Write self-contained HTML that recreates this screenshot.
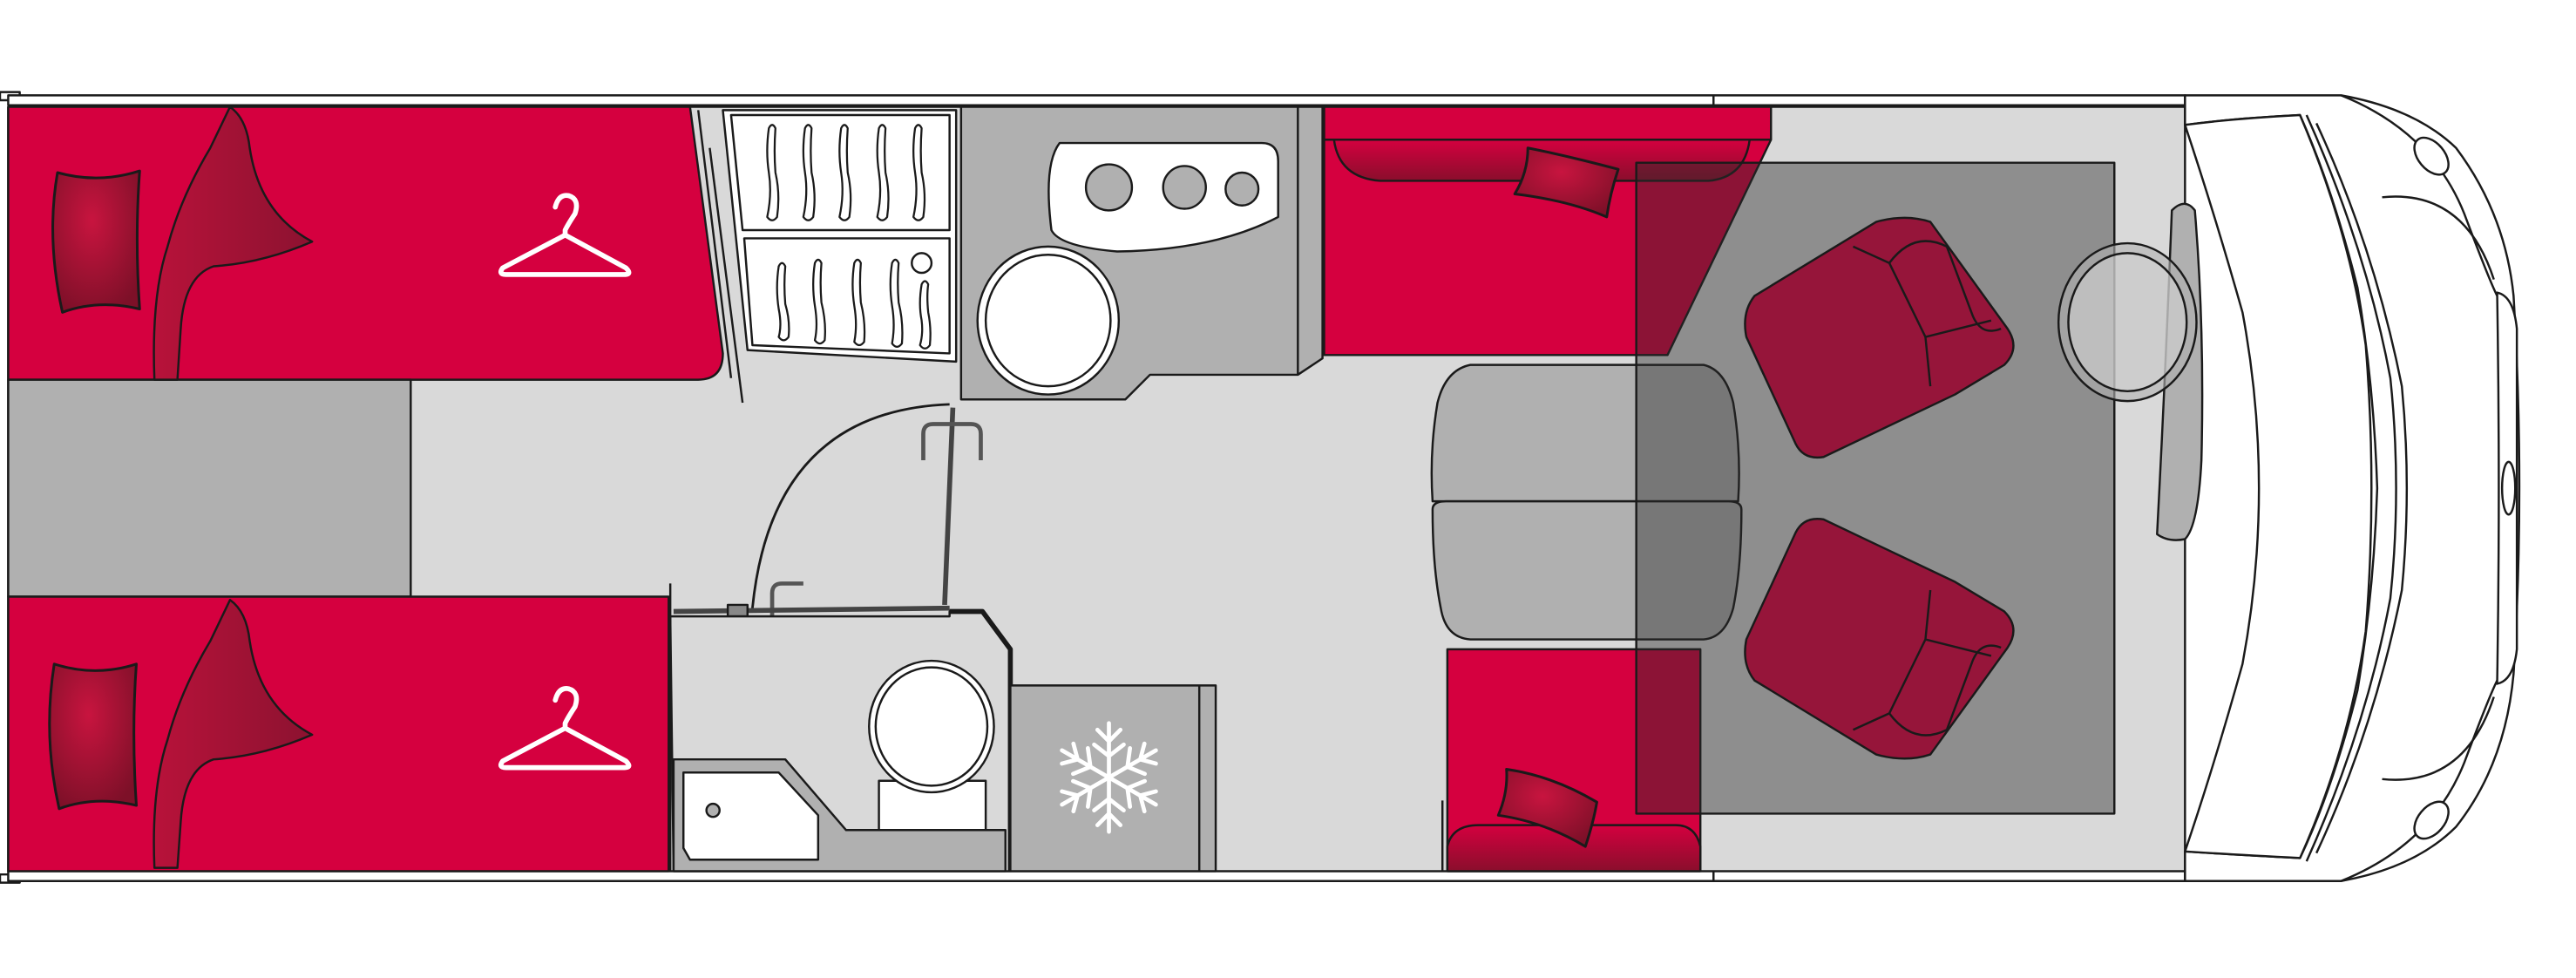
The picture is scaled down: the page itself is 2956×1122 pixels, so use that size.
<!DOCTYPE html>
<html><head><meta charset="utf-8"><style>
html,body{margin:0;padding:0;background:#fff;}
svg{display:block;}
</style></head><body>
<svg width="2956" height="1122" viewBox="0 0 1568 595" preserveAspectRatio="none" xmlns="http://www.w3.org/2000/svg">
<defs>
<radialGradient id="pil" cx="0.45" cy="0.35" r="0.7"><stop offset="0" stop-color="#c8143f"/><stop offset="1" stop-color="#7d1028"/></radialGradient>
<linearGradient id="bl" x1="0" y1="0" x2="1" y2="0"><stop offset="0" stop-color="#b8123a"/><stop offset="1" stop-color="#8c1230"/></linearGradient>
<linearGradient id="cush" x1="0" y1="0" x2="0" y2="1"><stop offset="0" stop-color="#d4003f"/><stop offset="1" stop-color="#8a0e2c"/></linearGradient>
</defs>
<g stroke="#1a1a1a" stroke-width="1.3" stroke-linejoin="round">
<rect x="0" y="56" width="12" height="5" fill="#fff"/>
<rect x="0" y="532" width="12" height="5" fill="#fff"/>
<rect x="5" y="58" width="1325" height="6" fill="#fff"/>
<rect x="5" y="530" width="1325" height="6" fill="#fff"/>
<line x1="1043" y1="58" x2="1043" y2="64"/><line x1="1043" y1="530" x2="1043" y2="536"/>
<rect x="5" y="65" width="1325" height="465" fill="#d9d9d9"/>
<!-- cab -->
<path d="M1330 58 H1425 Q1470 66 1495 90 Q1525 130 1530 180 Q1537 297 1530 410 Q1525 465 1495 503 Q1470 528 1425 536 H1330 L1330 518 Q1360 520 1400 522 Q1420 480 1435 420 Q1445 360 1447 297 Q1445 234 1435 175 Q1420 115 1400 70 Q1360 72 1330 76 Z" fill="#fff"/>
<path d="M1330 76 Q1360 72 1400 70 Q1430 140 1440 210 Q1447 297 1440 384 Q1430 455 1400 522 Q1360 520 1330 518 Q1348 465 1365 404 Q1385 297 1365 190 Q1348 130 1330 76Z" fill="#fff"/>
<path d="M1404 70 Q1440 150 1455 230 Q1462 297 1455 364 Q1440 444 1404 524" fill="none"/>
<path d="M1410 75 Q1445 150 1462 235 Q1468 297 1462 359 Q1445 444 1410 519" fill="none"/>
<path d="M1425 58 Q1480 80 1500 130 Q1515 170 1520 180" fill="none"/>
<path d="M1425 536 Q1480 514 1500 464 Q1515 424 1520 414" fill="none"/>
<path d="M1450 120 Q1500 115 1518 170" fill="none"/><path d="M1450 474 Q1500 479 1518 424" fill="none"/>
<ellipse cx="1480" cy="95" rx="8" ry="13" transform="rotate(-40 1480 95)" fill="#fff"/>
<ellipse cx="1480" cy="499" rx="8" ry="13" transform="rotate(40 1480 499)" fill="#fff"/>
<path d="M1520 178 Q1530 180 1532 200 V395 Q1530 414 1520 416 Q1522 297 1520 178Z" fill="#fff"/>
<ellipse cx="1527" cy="297" rx="4" ry="16" fill="#fff"/>
<!-- left beds -->
<path d="M5 65 H420 L440 215 Q440 231 425 231 H5 Z" fill="#d5003f"/>
<rect x="5" y="231" width="245" height="132" fill="#b0b0b0"/>
<rect x="5" y="363" width="402" height="167" fill="#d5003f"/>
<path d="M140 65 Q150 72 152 90 Q158 130 190 147 Q160 160 130 162 Q112 168 110 200 L108 231 H94 Q92 180 102 150 Q110 120 128 90 Z" fill="url(#bl)"/>
<path d="M140 365 Q150 372 152 390 Q158 430 190 447 Q160 460 130 462 Q112 468 110 500 L108 528 H94 Q92 480 102 450 Q110 420 128 390 Z" fill="url(#bl)"/>
<path d="M35 105 Q60 112 85 104 Q82 145 85 188 Q60 182 38 190 Q28 145 35 105Z" fill="url(#pil)" stroke-width="1.6"/>
<path d="M33 404 Q58 412 83 404 Q80 445 83 490 Q58 484 36 492 Q26 448 33 404Z" fill="url(#pil)" stroke-width="1.6"/>
</g>
<g fill="none" stroke="#fff" stroke-width="3" stroke-linecap="round" stroke-linejoin="round">
<path d="M338 126 Q340 118 346 119 Q353 121 350 130 Q346 136 344 140 V143 M344 143 L306 163 Q303 167 308 167 H380 Q385 167 381 163 Z"/>
<path d="M338 426 Q340 418 346 419 Q353 421 350 430 Q346 436 344 440 V443 M344 443 L306 463 Q303 467 308 467 H380 Q385 467 381 463 Z"/>
</g>
<g stroke="#1a1a1a" stroke-width="1.3" stroke-linejoin="round">
<!-- wardrobe -->
<path d="M440 67 H582 V220 L455 213 Z" fill="#fff"/>
<path d="M445 70 H578 V140 H452 Z M453 145 H578 V215 L458 210 Z" fill="#fff"/>
<line x1="425" y1="67" x2="445" y2="230"/><line x1="432" y1="90" x2="452" y2="245"/>
<g fill="#fff" stroke-width="1.2">
<path d="M468 78 Q466 92 468 105 Q470 118 467 132 Q470 136 473 132 Q475 118 472 105 Q471 92 472 78 Q470 74 468 78Z"/>
<path d="M490 78 Q488 92 490 105 Q492 118 489 132 Q492 136 495 132 Q497 118 494 105 Q493 92 494 78 Q492 74 490 78Z"/>
<path d="M512 78 Q510 92 512 105 Q514 118 511 132 Q514 136 517 132 Q519 118 516 105 Q515 92 516 78 Q514 74 512 78Z"/>
<path d="M535 78 Q533 92 535 105 Q537 118 534 132 Q537 136 540 132 Q542 118 539 105 Q538 92 539 78 Q537 74 535 78Z"/>
<path d="M557 78 Q555 92 557 105 Q559 118 556 132 Q559 136 562 132 Q564 118 561 105 Q560 92 561 78 Q559 74 557 78Z"/>
<path d="M474 162 Q472 175 474 188 Q476 198 474 205 Q477 209 480 205 Q481 195 478 185 Q477 173 478 162 Q476 158 474 162Z"/>
<path d="M496 160 Q494 173 496 186 Q498 198 496 207 Q499 211 502 207 Q503 196 500 184 Q499 172 500 160 Q498 156 496 160Z"/>
<path d="M520 160 Q518 173 520 186 Q522 198 520 208 Q523 212 526 208 Q527 196 524 184 Q523 172 524 160 Q522 156 520 160Z"/>
<path d="M543 160 Q541 173 543 186 Q545 198 543 209 Q546 213 549 209 Q550 196 547 184 Q546 172 547 160 Q545 156 543 160Z"/>
<path d="M561 173 Q559 185 561 195 Q562 203 560 210 Q563 214 566 210 Q567 200 565 190 Q564 180 565 173 Q563 169 561 173Z"/>
</g>
<circle cx="561" cy="160" r="6" fill="#fff"/>
<!-- kitchen -->
<path d="M585 65 H805 V218 L790 228 H700 L685 243 H585 Z" fill="#b0b0b0"/>
<line x1="790" y1="65" x2="790" y2="228"/>
<path d="M645 87 H768 Q778 87 778 98 V132 Q740 152 680 153 Q645 150 640 140 Q635 100 645 87Z" fill="#fff"/>
<circle cx="675" cy="114" r="14" fill="#b0b0b0"/><circle cx="721" cy="114" r="13" fill="#b0b0b0"/><circle cx="756" cy="115" r="10" fill="#b0b0b0"/>
<ellipse cx="638" cy="195" rx="43" ry="45" fill="#fff"/><ellipse cx="638" cy="195" rx="38" ry="40" fill="#fff"/>
<!-- door -->
<path d="M578 246 Q470 250 458 370" fill="none" stroke-width="1.5"/>
<path d="M580 248 L575 368" stroke-width="3" stroke="#444"/>
<path d="M562 280 V264 Q562 258 568 258 H580 M597 280 V264 Q597 258 591 258 H580" fill="none" stroke="#555" stroke-width="2.5"/>
<path d="M489 355 H476 Q470 355 470 361 V370 M489 387 H476 Q470 387 470 381 V372" fill="none" stroke="#555" stroke-width="2.5"/>
<line x1="410" y1="372" x2="578" y2="370" stroke-width="3" stroke="#444"/>
<rect x="443" y="368" width="12" height="7" fill="#888"/>
<!-- bathroom -->
<path d="M408 375 L410 530 H615 V395 L598 372 H578 V375 Z" fill="#d9d9d9"/>
<line x1="408" y1="355" x2="408" y2="530"/>
<path d="M578 372 H598 L615 395 V530" fill="none" stroke-width="3"/>
<path d="M410 462 H478 L515 505 H612 V530 H410 Z" fill="#b0b0b0"/>
<path d="M416 470 H474 L498 496 V523 H420 L416 516 Z" fill="#fff"/>
<circle cx="434" cy="493" r="4" fill="#b0b0b0"/>
<rect x="535" y="475" width="65" height="30" fill="#fff"/>
<ellipse cx="567" cy="442" rx="38" ry="40" fill="#fff"/><ellipse cx="567" cy="442" rx="34" ry="36" fill="#fff"/>
<!-- fridge -->
<rect x="615" y="417" width="125" height="113" fill="#b0b0b0"/>
<line x1="730" y1="417" x2="730" y2="530"/>
<!-- top right sofa -->
<path d="M806 65 H1078 V85 L1015 216 H806 Z" fill="#d5003f"/>
<line x1="806" y1="85" x2="1078" y2="85"/>
<path d="M812 85 Q815 108 840 110 H1040 Q1062 108 1065 85 Z" fill="url(#cush)"/>
<path d="M930 90 Q955 95 985 103 Q980 118 978 132 Q955 122 922 118 Q930 105 930 90Z" fill="url(#pil)" stroke-width="1.6"/>
<!-- bottom seat -->
<rect x="881" y="395" width="154" height="135" fill="#d5003f"/>
<path d="M881 530 V515 Q884 502 900 502 H1020 Q1032 502 1035 515 V530 Z" fill="url(#cush)"/>
<line x1="878" y1="487" x2="878" y2="530"/>
<path d="M917 468 Q945 472 972 488 Q970 500 965 515 Q940 500 912 496 Q918 482 917 468Z" fill="url(#pil)" stroke-width="1.6"/>
<!-- table -->
<path d="M895 222 H1037 Q1050 225 1055 245 Q1060 275 1058 305 H872 Q870 275 875 245 Q880 225 895 222Z" fill="#b0b0b0"/>
<path d="M872 310 Q872 305 880 305 H1052 Q1060 305 1060 310 Q1060 345 1055 370 Q1050 388 1037 389 H895 Q880 388 877 370 Q872 345 872 310Z" fill="#b0b0b0"/>
<rect x="996" y="99" width="291" height="396" fill="#2c2c2c" fill-opacity="0.43"/>
<!-- armchairs -->
<g fill="#96153a">
<path d="M1068 180 L1142 135 Q1160 130 1175 135 L1222 200 Q1230 212 1220 222 L1190 240 L1110 278 Q1098 280 1093 270 L1063 205 Q1060 190 1068 180Z"/>
<path d="M1068 414 L1142 459 Q1160 464 1175 459 L1222 394 Q1230 382 1220 372 L1190 354 L1110 316 Q1098 314 1093 324 L1063 389 Q1060 404 1068 414Z"/>
</g>
<g fill="none">
<path d="M1128 150 L1150 160 L1172 205 L1212 195 M1172 205 L1175 235 M1150 160 Q1165 140 1185 150 L1200 190 Q1205 205 1218 200"/>
<path d="M1128 444 L1150 434 L1172 389 L1212 399 M1172 389 L1175 359 M1150 434 Q1165 454 1185 444 L1200 404 Q1205 389 1218 394"/>
</g>
<path d="M1322 128 Q1330 120 1336 128 Q1342 200 1340 280 Q1338 320 1330 328 Q1320 330 1313 325 Q1318 230 1322 128Z" fill="#b0b0b0"/>
<ellipse cx="1295" cy="196" rx="42" ry="48" fill="#b0b0b0" fill-opacity="0.6"/>
<ellipse cx="1295" cy="196" rx="36" ry="42" fill="#d9d9d9" fill-opacity="0.5"/>
</g>
<g stroke="#fff" stroke-width="2.5" fill="none" stroke-linecap="round" transform="translate(675 473)">
<g id="arm"><path d="M0 0 V-33 M0 -22 L-7 -29 M0 -22 L7 -29 M0 -13 L-9 -20 M0 -13 L9 -20"/></g>
<use href="#arm" transform="rotate(60)"/><use href="#arm" transform="rotate(120)"/><use href="#arm" transform="rotate(180)"/><use href="#arm" transform="rotate(240)"/><use href="#arm" transform="rotate(300)"/>
</g>
</svg>
</body></html>
